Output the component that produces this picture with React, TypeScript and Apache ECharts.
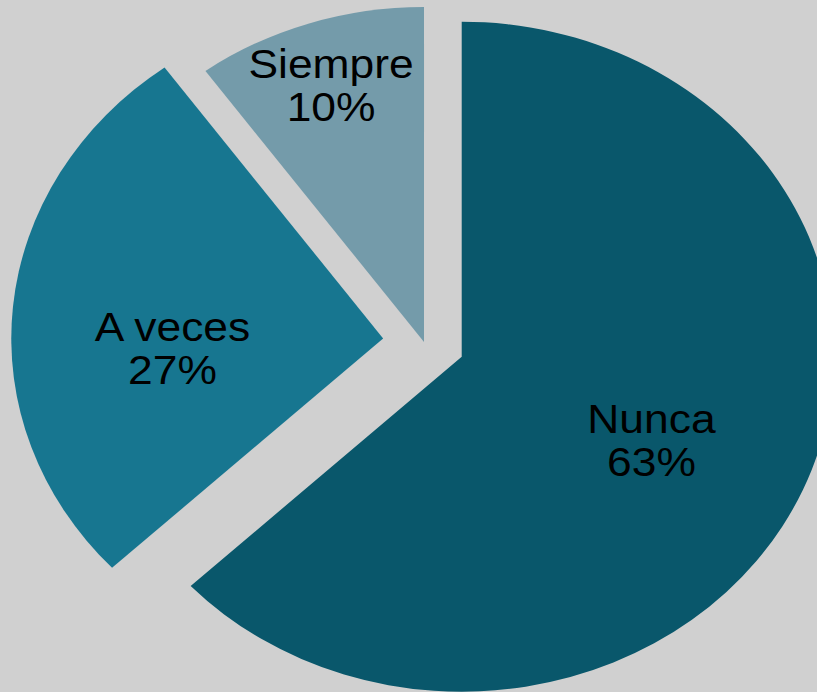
import React, { useEffect, useRef } from "react";
import * as echarts from "echarts";

const categories = ["Nunca", "A veces", "Siempre"];
const values = [63, 27, 10];
const exploded = [true, true, false];
const colors = ["#09576b", "#177690", "#749baa"];

const SX = 1.11;
const W = 736;
const H = 692;

export default function App() {
  const ref = useRef<HTMLDivElement>(null);
  useEffect(() => {
    const chart = echarts.init(ref.current!, null, { renderer: "svg" });
    const R = 335;
    const cx = 382;
    const cy = 342;
    // per-label placement: [radius band (fraction of R), shift of label anchor]
    const labelBands = [[0.46, 0.66], [0.46, 0.66], [0.7, 0.9]];
    const labelShift = [[-4, 8], [0, 28], [0, 2]];
    const base = categories.map((name, i) => ({ name, value: values[i], selected: exploded[i] }));
    const labelStyle: any = {
      show: true,
      position: "inside",
      formatter: (p: any) => `${p.name}\n${p.percent}%`,
      color: "#000",
      fontSize: 40,
      lineHeight: 43,
      fontFamily: "Liberation Sans, Arial, sans-serif",
    };
    const common: any = {
      type: "pie",
      startAngle: 90,
      clockwise: true,
      selectedMode: "multiple",
      selectedOffset: 37,
      avoidLabelOverlap: false,
      labelLine: { show: false },
      emphasis: { disabled: true },
      silent: true,
    };
    const labelSeries = categories.map((_, k) => ({
      ...common,
      center: [cx + labelShift[k][0], cy + labelShift[k][1]],
      radius: [labelBands[k][0] * R, labelBands[k][1] * R],
      label: labelStyle,
      data: base.map((d, i) => ({
        ...d,
        itemStyle: { color: "rgba(0,0,0,0)", borderWidth: 0 },
        label: { ...labelStyle, show: i === k },
      })),
    }));
    chart.setOption({
      animation: false,
      backgroundColor: "#d0d0d0",
      series: [
        {
          ...common,
          center: [cx, cy],
          radius: R,
          label: { show: false },
          data: base.map((d, i) => ({ ...d, itemStyle: { color: colors[i], borderWidth: 0 } })),
        },
        ...labelSeries,
      ],
    });
    return () => chart.dispose();
  }, []);
  return (
    <div
      style={{
        position: "fixed",
        left: 0,
        top: 0,
        width: 817,
        height: 692,
        overflow: "hidden",
        background: "#d0d0d0",
      }}
    >
      <div
        ref={ref}
        style={{ width: W, height: H, transform: `scaleX(${SX})`, transformOrigin: "0 0" }}
      />
    </div>
  );
}
